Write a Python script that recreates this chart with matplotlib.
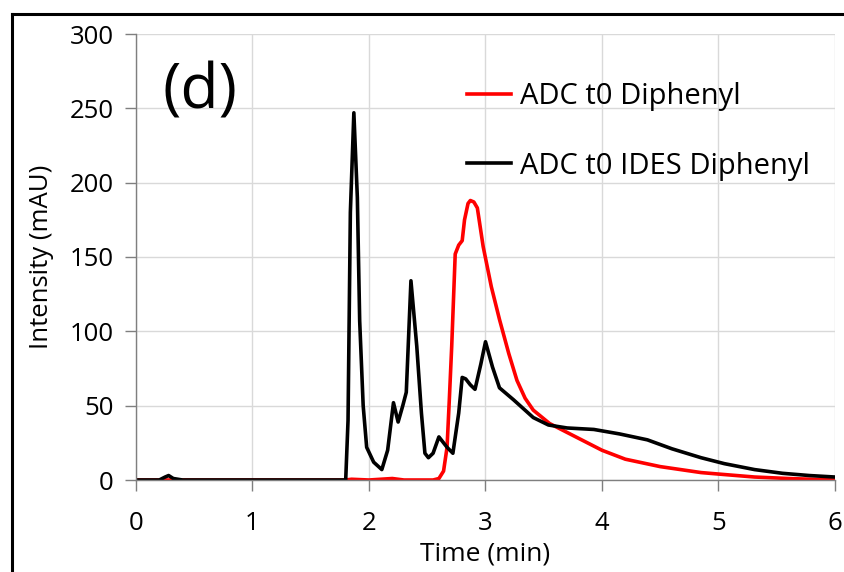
import matplotlib
matplotlib.use('Agg')
import matplotlib.pyplot as plt
from matplotlib.lines import Line2D
import numpy as np

# chromatogram traces (time in min, intensity in mAU)
ides_t = [0.0, 0.20, 0.25, 0.28, 0.32, 0.40, 1.00, 1.80, 1.82, 1.84, 1.87,
          1.90, 1.92, 1.95, 1.98, 2.04, 2.11, 2.16, 2.21, 2.25, 2.29, 2.32,
          2.36, 2.41, 2.45, 2.48, 2.51, 2.55, 2.60, 2.67, 2.72, 2.77, 2.80,
          2.83, 2.87, 2.91, 2.96, 3.00, 3.06, 3.12, 3.24, 3.41, 3.54, 3.70,
          3.93, 4.15, 4.39, 4.60, 4.85, 5.05, 5.31, 5.55, 5.78, 6.0]
ides_y = [0, 0, 2, 3, 1, 0, 0, 0, 40, 180, 247,
          190, 107, 50, 22, 12, 7, 20, 52, 39, 50, 59,
          134, 90, 45, 18, 15, 18, 29, 22, 18, 45, 69,
          68, 64, 61, 78, 93, 76, 62, 54, 42, 37, 35,
          34, 31, 27, 21, 15, 11, 7, 4.5, 3, 2]

adc_t = [0.0, 0.25, 0.40, 1.80, 1.85, 2.00, 2.20, 2.30, 2.55, 2.60, 2.64,
         2.67, 2.69, 2.71, 2.74, 2.77, 2.80, 2.82, 2.85, 2.87, 2.90, 2.93,
         2.98, 3.05, 3.12, 3.20, 3.27, 3.34, 3.41, 3.55, 3.75, 4.00, 4.20,
         4.50, 4.85, 5.00, 5.31, 5.60, 6.0]
adc_y = [0, 0, 0, 0, 0.5, 0, 1, 0, 0, 1, 6,
         22, 55, 90, 152, 158, 161, 175, 186, 188, 187, 183,
         157, 130, 108, 85, 67, 55, 47, 38, 30, 20, 14,
         9, 5, 4, 2, 1, 0]

labels = ['ADC t0 Diphenyl', 'ADC t0 IDES Diphenyl']
xticks = [0, 1, 2, 3, 4, 5, 6]
yticks = [0, 50, 100, 150, 200, 250, 300]

plt.rcParams['font.family'] = ['Open Sans', 'DejaVu Sans']

fig = plt.figure(figsize=(8.45, 5.72), dpi=100)
ax = fig.add_axes([136 / 845, 1 - 480 / 572, 699 / 845, 446 / 572])

ax.plot(adc_t, adc_y, color='#ff0000', lw=2.6, label=labels[0],
        solid_joinstyle='round')
ax.plot(ides_t, ides_y, color='black', lw=2.6, label=labels[1],
        solid_joinstyle='round')

ax.set_xlim(0, 6)
ax.set_ylim(0, 300)
ax.set_xticks(xticks)
ax.set_yticks(yticks)
ax.grid(True, color='#d9d9d9', lw=1.0)
ax.set_axisbelow(True)
for s in ['top', 'right']:
    ax.spines[s].set_visible(False)
for s in ['left', 'bottom']:
    ax.spines[s].set_color('#7f7f7f')
    ax.spines[s].set_linewidth(1.0)
ax.tick_params(axis='both', direction='out', length=8, width=1.0,
               color='#7f7f7f', labelsize=18.5)
ax.tick_params(axis='x', pad=14)
ax.tick_params(axis='y', pad=8)
ax.set_xlabel('Time (min)', fontsize=19, labelpad=4)
ax.set_ylabel('Intensity (mAU)', fontsize=18.5, labelpad=11)

ax.text(0.038, 0.94, '(d)', transform=ax.transAxes, fontsize=45,
        va='top', ha='left')

ax.legend(loc='upper left', bbox_to_anchor=(0.474, 0.893), frameon=False,
          fontsize=21, handlelength=1.5, handletextpad=0.3,
          labelspacing=1.4, borderaxespad=0, borderpad=0)

# outer frame lines (top and left edge)
fig.add_artist(Line2D([12 / 845, 1.0], [1 - 14 / 572, 1 - 14 / 572],
                      color='black', lw=2.2, transform=fig.transFigure))
fig.add_artist(Line2D([12 / 845, 12 / 845], [0, 1 - 14 / 572],
                      color='black', lw=2.2, transform=fig.transFigure))

fig.savefig('out.png', dpi=100)
